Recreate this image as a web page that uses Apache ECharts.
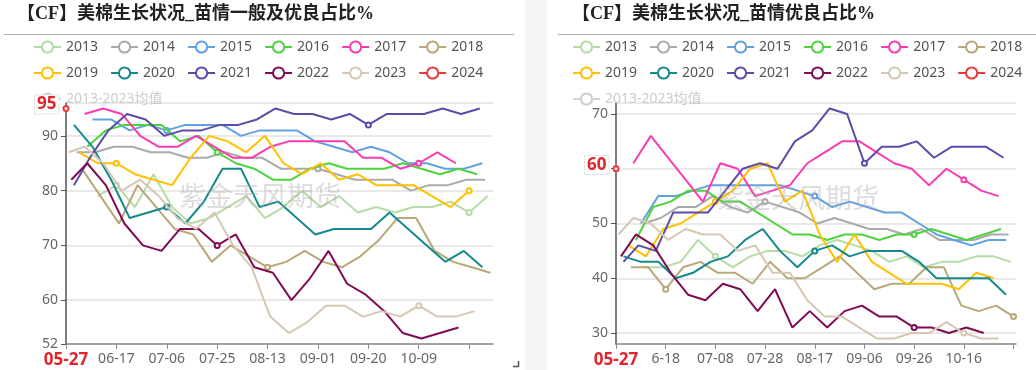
<!DOCTYPE html>
<html><head><meta charset="utf-8">
<script src="https://cdn.jsdelivr.net/npm/echarts/dist/echarts.min.js"></script>
<style>html,body{margin:0;padding:0;background:#fff}#c{width:1036px;height:370px}</style>
</head><body><div id="c"></div>
<script>
const years = ['2013','2014','2015','2016','2017','2018','2019','2020','2021','2022','2023','2024'];
const avgName = '2013-2023均值';
const colors = ['#b6dca5','#aaaaaa','#62a1dc','#4fd23f','#fa3cb0','#b8a879','#ffc000','#15898d','#5b4ca8','#7f0c52','#d6c7b4','#e8393f'];
// first report date of each year, and the Monday the weekly schedule is based on
const firstDates = ['06-10','06-02','06-08','06-06','06-05','06-04','06-03','06-01','06-01','05-31','05-30','05-27'];
const mondayBase = ['06-10','06-02','06-08','06-06','06-05','06-04','06-03','06-01','05-31','05-30','05-29','05-27'];

// 苗情一般及优良占比% (left)
const L2013 = [79,81,77,83,77,74,75,77,79,75,77,80,77,79,76,77,76,77,77,78,76,79];
const L2014 = [87,87,88,88,87,87,86,86,87,86,86,84,84,84,83,82,82,82,80,81,81,82,82];
const L2015 = [93,93,91,92,91,92,92,92,90,91,91,91,89,88,87,88,87,85,85,84,84,85];
const L2016 = [88,91,92,92,92,89,90,87,85,84,82,82,84,85,84,84,84,85,84,83,84,83];
const L2017 = [94,95,94,90,88,88,90,88,86,86,88,89,89,89,89,86,86,84,85,87,85];
const L2018 = [84,79,74,81,77,73,72,67,70,68,66,67,69,67,66,68,71,75,75,69,67,66,65];
const L2019 = [87,85,85,83,82,81,86,90,89,87,90,85,83,85,82,83,81,81,81,79,77,80];
const L2020 = [92,88,82,75,76,77,74,78,84,84,77,78,75,72,73,73,73,76,73,70,67,69,66];
const L2021 = [81,86,91,94,93,90,91,91,92,92,93,95,94,94,93,94,92,94,94,94,95,94,95];
const L2022 = [82,85,81,74,70,69,73,73,70,72,66,65,60,64,69,63,61,58,54,53,54,55];
const L2023 = [87,88,85,80,82,79,75,73,76,70,66,57,54,56,59,59,57,58,57,59,57,57,58];
const L2024 = [95];

// 苗情优良占比% (right)
const R2013 = [42,42,43,47,44,42,44,45,45,44,46,47,46,45,43,44,42,43,43,44,44,43];
const R2014 = [null,50,51,53,53,55,53,52,54,53,52,50,51,50,49,49,48,49,47,47,47,48,48];
const R2015 = [50,55,55,56,57,57,57,57,57,56,55,53,54,53,52,52,50,48,47,46,47,47];
const R2016 = [47,53,54,56,56,54,54,52,50,48,48,47,48,48,47,48,48,49,48,47,48,49];
const R2017 = [61,66,62,58,54,61,60,55,56,57,61,63,65,65,63,61,60,57,60,58,56,55];
const R2018 = [42,42,38,42,43,41,41,39,43,40,40,42,44,41,38,39,39,42,42,35,34,35,33];
const R2019 = [46,44,49,50,52,54,56,60,61,54,56,48,43,48,43,41,39,39,39,38,41,40];
const R2020 = [44,43,43,40,41,43,44,47,49,45,42,45,46,44,45,45,45,43,40,40,40,40,37];
const R2021 = [43,46,45,52,52,52,56,60,61,60,65,67,71,70,61,64,64,65,62,64,64,64,62];
const R2022 = [44,48,46,41,37,36,39,38,34,38,31,34,31,34,35,33,33,31,31,30,31,30];
const R2023 = [48,51,50,47,49,48,48,45,46,41,41,36,33,33,31,29,29,30,30,32,30,29,29];
const R2024 = [60];

const leftVals = [L2013,L2014,L2015,L2016,L2017,L2018,L2019,L2020,L2021,L2022,L2023,L2024];
const rightVals = [R2013,R2014,R2015,R2016,R2017,R2018,R2019,R2020,R2021,R2022,R2023,R2024];

const DAY = 86400000;
function toT(s){const p=s.split('-').map(Number);return Date.UTC(2001,p[0]-1,p[1]);}
function mmdd(t){const d=new Date(t);return String(d.getUTCMonth()+1).padStart(2,'0')+'-'+String(d.getUTCDate()).padStart(2,'0');}
const categories = ['05-27'];
for(let t=toT('05-30');t<=toT('11-06');t+=DAY) categories.push(mmdd(t));
const catIndex = {}; categories.forEach((c,i)=>{catIndex[c]=i;});
const categoriesRight = categories.map(c=>c==='06-18'?'6-18':c);

function pairs(k, vals){
  const out=[];
  vals.forEach((v,i)=>{
    const t = i===0 ? toT(firstDates[k]) : toT(mondayBase[k])+7*i*DAY;
    const idx = catIndex[mmdd(t)];
    if(idx==null) return;
    out.push([idx, v==null?'-':v]);
  });
  return out;
}

const RED = '#e0262c';
const FONT = '"Noto Sans","Noto Sans CJK SC",sans-serif';
const series = [];
[leftVals,rightVals].forEach((set,g)=>{
  set.forEach((vals,k)=>{
    const s = {name:years[k], type:'line', xAxisIndex:g, yAxisIndex:g, data:pairs(k,vals),
      symbol:'emptyCircle', symbolSize:5, lineStyle:{width:2, color:colors[k]}, itemStyle:{color:colors[k]},
      emphasis:{disabled:true}, z:2+k*0.01};
    if(k===11){
      s.z = 10;
      s.label={show:true, position:'left', distance:4, offset:[0,-4], formatter:p=>p.value[1],
        color:RED, fontWeight:'bold', fontSize:17, fontFamily:FONT, backgroundColor:'#fff',
        borderColor:'#e4e4e4', borderWidth:1, padding:[1,2,0,2]};
    }
    series.push(s);
  });
  series.push({name:avgName, type:'line', xAxisIndex:g, yAxisIndex:g, data:[], symbol:'emptyCircle', itemStyle:{color:'#bbbbbb'}});
});

const legendBase = {top:35, width:470, itemWidth:27, itemHeight:14, itemGap:12, z:3,
  textStyle:{fontSize:14, color:'#555', fontFamily:FONT}, data:years.concat([avgName]),
  selected:{[avgName]:false}, inactiveColor:'#cccccc'};

function xAxis(g, data, interval, hideFrom){
  return {type:'category', gridIndex:g, data:data, boundaryGap:false,
    axisLine:{lineStyle:{color:'#8c8c8c', width:1.5}},
    axisTick:{show:true, length:5, lineStyle:{color:'#8c8c8c'}},
    splitLine:{show:false},
    axisLabel:{interval:interval, color:'#666', fontSize:14, margin:8, fontFamily:FONT,
      formatter:(v,i)=> i===0 ? '{r|'+v+'}' : (i>=hideFrom ? '' : v),
      rich:{r:{color:RED, fontWeight:'bold', fontSize:17, fontFamily:FONT}}}};
}
function yAxis(g, min, max, showMin){
  return {type:'value', gridIndex:g, min:min, max:max,
    axisLine:{show:true, lineStyle:{color:'#555', width:1.5}},
    axisTick:{show:true, length:5, lineStyle:{color:'#555'}},
    axisLabel:{color:'#666', fontSize:14, fontFamily:FONT, showMinLabel:showMin, showMaxLabel:false},
    splitLine:{lineStyle:{color:'#e2e2e2', width:1.5}}};
}

const titleStyle = {fontSize:18, fontWeight:'bold', color:'#222', fontFamily:'"Liberation Serif","Noto Sans CJK SC",serif'};
const option = {
  animation:false,
  textStyle:{fontFamily:FONT},
  title:[
    {text:'【CF】美棉生长状况_苗情一般及优良占比%', left:17, top:5, padding:0, textStyle:titleStyle},
    {text:'【CF】美棉生长状况_苗情优良占比%', left:572, top:5, padding:0, textStyle:titleStyle}
  ],
  legend:[Object.assign({left:28}, legendBase), Object.assign({left:567}, legendBase)],
  grid:[{left:66, right:543, top:103, bottom:26}, {left:616, right:20, top:103, bottom:26}],
  xAxis:[xAxis(0, categories, 18, 150), xAxis(1, categoriesRight, 19, 158)],
  yAxis:[yAxis(0, 52, 96, true), yAxis(1, 28, 72, false)],
  graphic:[
    {type:'rect', silent:true, z:-10, shape:{x:525, y:0, width:22, height:370}, style:{fill:'#f4f4f4'}},
    {type:'line', silent:true, shape:{x1:4, y1:34.5, x2:514, y2:34.5}, style:{stroke:'#b0b0b0', lineWidth:1}},
    {type:'line', silent:true, shape:{x1:558, y1:34.5, x2:1036, y2:34.5}, style:{stroke:'#b0b0b0', lineWidth:1}},
    {type:'polyline', silent:true, shape:{points:[[513,366.5],[518.5,366.5],[518.5,361]]}, style:{stroke:'#555', lineWidth:1.5, fill:null}},
    {type:'text', silent:true, z:100, x:260, y:196, style:{text:'紫金天风期货', fontSize:27, fontFamily:'"Noto Sans CJK SC",sans-serif', fill:'rgba(170,170,170,0.4)', align:'center', verticalAlign:'middle'}},
    {type:'text', silent:true, z:100, x:798, y:198, style:{text:'紫金天风期货', fontSize:27, fontFamily:'"Noto Sans CJK SC",sans-serif', fill:'rgba(170,170,170,0.4)', align:'center', verticalAlign:'middle'}}
  ],
  series:series
};
const chart = echarts.init(document.getElementById('c'), null, {renderer:'canvas'});
chart.setOption(option);
</script>
</body></html>
